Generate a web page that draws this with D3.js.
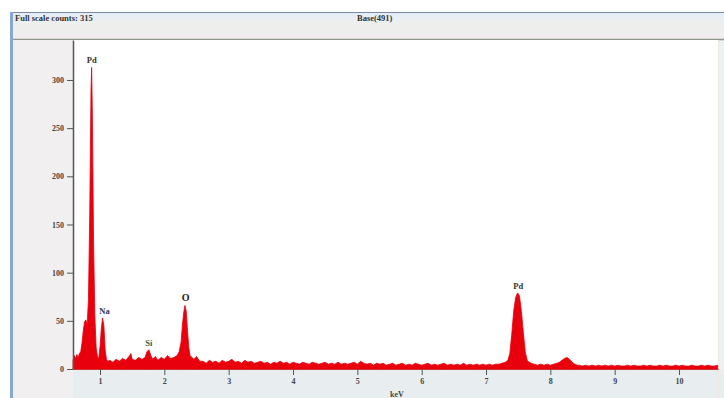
<!DOCTYPE html>
<html><head><meta charset="utf-8">
<script src="https://cdn.jsdelivr.net/npm/d3@7"></script>
<style>html,body{margin:0;padding:0;background:#fff;overflow:hidden}</style>
</head><body>
<svg id="c" width="724" height="398"></svg>
<script>
const titleLeft = "Full scale counts: 315";
const titleMid = "Base(491)";
const xTicks = [1,2,3,4,5,6,7,8,9,10];
const yTicks = [0,50,100,150,200,250,300];
const xLabel = "keV";
// spectrum energies (keV) and counts
const energy = [
0.58,0.60,0.62,0.64,0.66,0.68,0.70,0.72,0.74,0.76,0.78,0.80,0.82,0.84,0.86,0.87,0.88,0.90,0.92,0.94,0.96,0.98,1.00,1.02,1.04,1.06,1.08,1.10,1.12,
1.15,1.20,1.25,1.30,1.35,1.40,1.45,1.48,1.50,1.55,1.60,1.65,1.70,1.73,1.76,1.79,1.82,1.86,1.90,1.95,2.00,2.05,2.10,2.15,2.20,2.23,2.26,2.28,2.30,2.32,2.34,2.36,2.38,2.40,2.43,2.46,2.50,2.55,
2.60,2.65,2.70,2.75,2.80,2.85,2.90,2.95,3.00,3.05,3.10,3.15,3.20,3.25,3.30,3.35,3.40,3.45,3.50,3.55,3.60,3.65,3.70,3.75,3.80,3.85,3.90,3.95,
4.00,4.05,4.10,4.15,4.20,4.25,4.30,4.35,4.40,4.45,4.50,4.55,4.60,4.65,4.70,4.75,4.80,4.85,4.90,4.95,
5.00,5.05,5.10,5.15,5.20,5.25,5.30,5.35,5.40,5.45,5.50,5.55,5.60,5.65,5.70,5.75,5.80,5.85,5.90,5.95,
6.00,6.05,6.10,6.15,6.20,6.25,6.30,6.35,6.40,6.45,6.50,6.55,6.60,6.65,6.70,6.75,6.80,6.85,6.90,6.95,
7.00,7.05,7.10,7.15,7.20,7.25,7.30,7.34,7.37,7.40,7.43,7.46,7.49,7.52,7.55,7.58,7.61,7.64,7.67,7.70,7.75,7.80,7.85,7.90,7.95,
8.00,8.05,8.10,8.14,8.18,8.22,8.26,8.30,8.34,8.38,8.42,8.45,8.50,8.55,8.60,8.65,8.70,8.75,8.80,8.85,8.90,8.95,
9.00,9.05,9.10,9.15,9.20,9.25,9.30,9.35,9.40,9.45,9.50,9.55,9.60,9.65,9.70,9.75,9.80,9.85,9.90,9.95,
10.00,10.05,10.10,10.15,10.20,10.25,10.30,10.35,10.40,10.45,10.50,10.55,10.60];
const counts = [
9,14,11,15,12,16,18,27,40,49,51,46,72,160,290,313,270,130,55,22,13,11,23,42,53,45,20,10,8,
9,7,10,8,11,9,13,16,10,9,12,10,12,18,20,14,10,13,9,12,10,14,11,12,14,18,28,45,58,66,60,40,22,14,12,10,13,8,
8,6,9,7,8,6,9,7,8,10,7,8,6,9,7,8,6,7,8,6,7,5,7,6,8,6,7,5,
7,6,5,7,6,5,7,6,5,6,7,5,6,5,7,5,6,5,6,7,
5,8,6,5,6,4,6,5,6,4,5,6,4,5,6,4,5,4,6,5,
4,5,6,4,5,4,5,6,4,5,4,5,4,6,4,5,4,5,4,5,
4,5,4,5,5,6,7,9,16,36,60,74,79,76,60,38,18,9,7,6,5,4,5,4,5,
4,5,6,7,9,11,12,10,7,5,4,4,3,4,3,4,3,4,3,4,3,4,
3,4,3,3,4,3,4,3,3,4,3,4,3,3,4,3,4,3,3,4,
3,4,3,3,4,3,3,4,3,4,3,3,4];

const svg = d3.select("#c");
const L = 73, R = 718, T = 40, B = 369;
const x = d3.scaleLinear().domain([0.58, 10.606]).range([L, R]);
const y = d3.scaleLinear().domain([0, 341.5]).range([B, T]);
const font = "'Liberation Serif', serif";

// window background
svg.append("rect").attr("x",10).attr("y",12).attr("width",714).attr("height",386).attr("fill","#eef1f3");
// title band
const g0 = svg.append("defs").append("linearGradient").attr("id","tb").attr("x1",0).attr("x2",0).attr("y1",0).attr("y2",1);
g0.append("stop").attr("offset","0").attr("stop-color","#e4ecf8");
g0.append("stop").attr("offset","0.5").attr("stop-color","#eef0ec");
g0.append("stop").attr("offset","1").attr("stop-color","#f1ecf0");
svg.append("rect").attr("x",10).attr("y",12).attr("width",714).attr("height",27).attr("fill","url(#tb)");
svg.append("line").attr("x1",10).attr("x2",724).attr("y1",12.5).attr("y2",12.5).attr("stroke","#7a8aa6").attr("stroke-width",1);
svg.append("line").attr("x1",10).attr("x2",724).attr("y1",39.5).attr("y2",39.5).attr("stroke","#8e9486").attr("stroke-width",1.5);
// left panel
svg.append("rect").attr("x",13).attr("y",40).attr("width",60).attr("height",358).attr("fill","#f1eff0");
svg.append("rect").attr("x",10).attr("y",12).attr("width",3).attr("height",386).attr("fill","#86a8d6");
// bottom band
svg.append("rect").attr("x",73).attr("y",370).attr("width",651).attr("height",28).attr("fill","#e8eef0");
// plot area
svg.append("rect").attr("x",L).attr("y",T).attr("width",R-L).attr("height",B-T).attr("fill","#ffffff");
svg.append("line").attr("x1",R+0.5).attr("x2",R+0.5).attr("y1",T).attr("y2",398).attr("stroke","#ece9e0");

svg.append("text").attr("x",15).attr("y",21).attr("font-family",font).attr("font-weight","bold").attr("font-size",8.5).attr("fill","#333").text(titleLeft);
svg.append("text").attr("x",357).attr("y",21).attr("font-family",font).attr("font-weight","bold").attr("font-size",8.5).attr("fill","#333").text(titleMid);

// spectrum
const data = energy.map((e,i)=>({e, c: counts[i]}));
const area = d3.area().x(d=>x(d.e)).y0(B).y1(d=>y(d.c));
svg.append("path").datum(data).attr("d",area).attr("fill","#e8000c").attr("stroke","#e8000c").attr("stroke-width",0.8);

// axes
const yAxis = d3.axisLeft(y).tickValues(yTicks).tickSize(6).tickSizeOuter(0).tickPadding(3);
const ya = svg.append("g").attr("transform",`translate(${L},0)`).call(yAxis);
ya.select(".domain").attr("stroke","#555").attr("stroke-width",1.5);
ya.selectAll(".tick line").attr("stroke","#555");
ya.selectAll("text").attr("font-family",font).attr("font-weight","bold").attr("font-size",8).attr("fill","#444");

const xAxis = d3.axisBottom(x).tickValues(xTicks).tickSize(6).tickSizeOuter(0).tickPadding(3).tickFormat(d3.format("d"));
const xa = svg.append("g").attr("transform",`translate(0,${B})`).call(xAxis);
xa.select(".domain").attr("stroke","#c33").attr("stroke-width",1.2);
xa.selectAll(".tick line").attr("stroke","#555");
xa.selectAll("text").attr("font-family",font).attr("font-weight","bold").attr("font-size",8).attr("fill","#444");

svg.append("text").attr("x",397).attr("y",397).attr("text-anchor","middle").attr("font-family",font).attr("font-weight","bold").attr("font-size",8).attr("fill","#444").text(xLabel);

// peak labels
const peaks = [
  {label:"Pd", e:0.87, c:313, fill:"#333"},
  {label:"Na", e:1.07, c:53, fill:"#335"},
  {label:"Si", e:1.76, c:20, fill:"#3a5a4a"},
  {label:"O", e:2.33, c:66, fill:"#222"},
  {label:"Pd", e:7.50, c:79, fill:"#333"}
];
svg.selectAll("text.pk").data(peaks).join("text").attr("class","pk")
  .attr("x",d=>x(d.e)).attr("y",d=>y(d.c)-4).attr("text-anchor","middle")
  .attr("font-family",font).attr("font-weight","bold").attr("font-size",d=>d.label==="O"?10:8.5).attr("fill",d=>d.fill).text(d=>d.label);
</script>
</body></html>
